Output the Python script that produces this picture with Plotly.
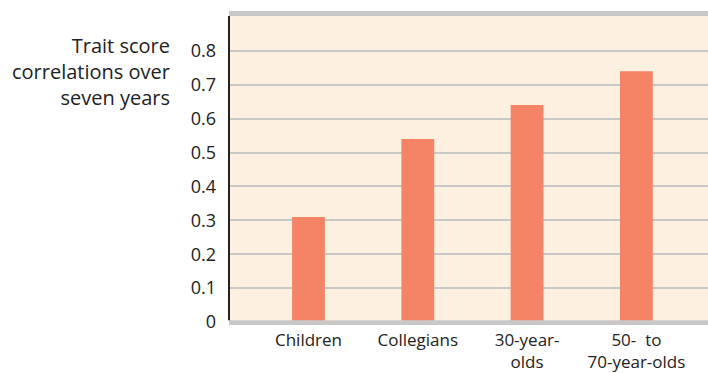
import plotly.graph_objects as go

categories = ["Children", "Collegians", "30-year-<br>olds", "50-  to<br>70-year-olds"]
values = [0.31, 0.54, 0.64, 0.74]
tick_vals = [0, 0.1, 0.2, 0.3, 0.4, 0.5, 0.6, 0.7, 0.8]
tick_text = ["0", "0.1", "0.2", "0.3", "0.4", "0.5", "0.6", "0.7", "0.8"]
y_title = "Trait score<br>correlations over<br>seven years"

xs = list(range(len(categories)))

fig = go.Figure()
fig.add_trace(go.Bar(x=xs, y=values, width=0.30, marker=dict(color="#F58466", line=dict(width=0)),
                     hoverinfo="skip"))

font_family = "Open Sans, Lato, sans-serif"
fig.update_layout(
    width=708, height=373,
    margin=dict(l=229, r=0, t=16, b=51),
    paper_bgcolor="white",
    plot_bgcolor="#FEF0E0",
    showlegend=False,
    font=dict(family=font_family, size=18, color="#222222"),
    xaxis=dict(range=[-0.727, 3.655], tickvals=xs, ticktext=categories,
               showgrid=False, zeroline=False, showline=False, ticks="",
               ticklabelstandoff=6, tickfont=dict(size=17), fixedrange=True,
               automargin=False),
    yaxis=dict(range=[0, 0.903], tickvals=tick_vals, ticktext=tick_text,
               showgrid=True, gridcolor="#C8C8C8", gridwidth=2, zeroline=False,
               showline=False, ticks="", ticklabelstandoff=12, tickfont=dict(size=18),
               fixedrange=True, automargin=False),
)
# top grey band
fig.add_shape(type="rect", xref="paper", yref="paper", x0=0, x1=1, y0=1, y1=1.016,
              fillcolor="#C8C8C8", line=dict(width=0), layer="above")
# bottom grey band
fig.add_shape(type="rect", xref="paper", yref="paper", x0=0, x1=1, y0=-0.01, y1=0.006,
              fillcolor="#C8C8C8", line=dict(width=0), layer="above")
# left axis line
fig.add_shape(type="line", xref="paper", yref="paper", x0=0, x1=0, y0=0.006, y1=1,
              line=dict(color="#222222", width=2), layer="above")

fig.add_annotation(text=y_title, xref="paper", yref="paper", x=-0.118, y=0.954,
                   xanchor="right", yanchor="top", align="right", showarrow=False,
                   font=dict(size=20, color="#222222"))

fig.write_html("out.html", config={"displayModeBar": False},
               post_script="document.body.style.margin='0';document.body.style.overflow='hidden';")
